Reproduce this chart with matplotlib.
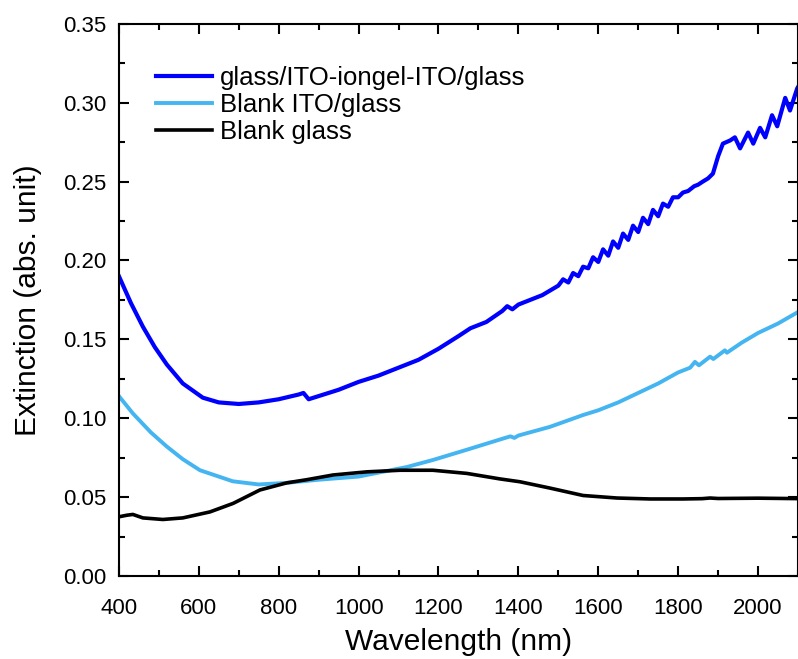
import matplotlib
matplotlib.use("Agg")
import matplotlib.pyplot as plt
from matplotlib.ticker import MultipleLocator

plt.rcParams["font.family"] = ["Liberation Sans", "DejaVu Sans"]

# glass/ITO-iongel-ITO/glass
wl_cell = [400, 430, 460, 490, 520, 560, 610, 650, 700, 750, 800, 850, 862, 875,
           900, 950, 1000, 1050, 1100, 1150, 1200, 1250, 1280, 1320, 1360, 1372,
           1385, 1400, 1430, 1460, 1480, 1500,
           1512, 1525, 1537, 1550, 1562, 1575, 1587, 1600, 1612, 1625, 1637, 1650,
           1662, 1675, 1687, 1700, 1712, 1725, 1737, 1750, 1762, 1775, 1787, 1800,
           1812, 1825, 1840, 1850, 1862, 1875, 1887, 1900, 1912, 1930, 1942, 1955,
           1975, 1988, 2005, 2018, 2035, 2048, 2068, 2080, 2098, 2105]
ext_cell = [0.190, 0.173, 0.158, 0.145, 0.134, 0.122, 0.113, 0.110, 0.109, 0.110,
            0.112, 0.115, 0.116, 0.112, 0.114, 0.118, 0.123, 0.127, 0.132, 0.137,
            0.144, 0.152, 0.157, 0.161, 0.168, 0.171, 0.169, 0.172, 0.175, 0.178,
            0.181, 0.184,
            0.188, 0.186, 0.192, 0.190, 0.196, 0.195, 0.202, 0.199, 0.207, 0.203,
            0.212, 0.208, 0.217, 0.213, 0.222, 0.218, 0.227, 0.223, 0.232, 0.228,
            0.236, 0.234, 0.240, 0.240, 0.243, 0.244, 0.247, 0.248, 0.250, 0.252,
            0.255, 0.266, 0.274, 0.276, 0.278, 0.271, 0.281, 0.274, 0.284, 0.278,
            0.292, 0.285, 0.303, 0.295, 0.309, 0.312]

# Blank ITO/glass
wl_ito = [400, 435, 480, 520, 560, 603, 650, 685, 750, 820, 900, 1000, 1060, 1120,
          1186, 1271, 1354, 1380, 1390, 1400, 1479, 1562, 1600, 1650, 1700, 1750,
          1800, 1830, 1842, 1852, 1880, 1888, 1917, 1922, 1960, 2000, 2050, 2105]
ext_ito = [0.114, 0.103, 0.091, 0.082, 0.074, 0.067, 0.063, 0.060, 0.058, 0.059,
           0.061, 0.063, 0.066, 0.069, 0.0735, 0.080, 0.0865, 0.0885, 0.0875, 0.089,
           0.0945, 0.102, 0.105, 0.110, 0.116, 0.122, 0.129, 0.132, 0.1357, 0.1335,
           0.139, 0.1375, 0.143, 0.1415, 0.148, 0.154, 0.160, 0.168]

# Blank glass
wl_glass = [400, 420, 435, 460, 510, 560, 628, 686, 753, 820, 870, 936, 1021, 1104,
            1186, 1271, 1354, 1404, 1479, 1562, 1647, 1730, 1812, 1860, 1880, 1900,
            2000, 2105]
ext_glass = [0.0375, 0.0385, 0.0390, 0.0368, 0.0358, 0.0368, 0.0406, 0.046, 0.0545,
             0.059, 0.061, 0.064, 0.066, 0.067, 0.067, 0.065, 0.0615, 0.0597, 0.0557,
             0.051, 0.0494, 0.0488, 0.0488, 0.0490, 0.0494, 0.0491, 0.0493, 0.0490]

fig = plt.figure(figsize=(7.98, 6.59), dpi=100)
ax = fig.add_axes([0.149, 0.126, 0.851, 0.838])

ax.plot(wl_cell, ext_cell, color="#0000FF", lw=3.0, label="glass/ITO-iongel-ITO/glass")
ax.plot(wl_ito, ext_ito, color="#45B5F2", lw=2.8, label="Blank ITO/glass")
ax.plot(wl_glass, ext_glass, color="black", lw=2.6, label="Blank glass")

ax.set_xlim(400, 2100)
ax.set_ylim(0, 0.35)
ax.xaxis.set_major_locator(MultipleLocator(200))
ax.xaxis.set_minor_locator(MultipleLocator(100))
ax.yaxis.set_major_locator(MultipleLocator(0.05))
ax.yaxis.set_minor_locator(MultipleLocator(0.025))
ax.yaxis.set_major_formatter(plt.FuncFormatter(lambda v, p: f"{v:.2f}"))

ax.tick_params(which="both", direction="in", top=True, right=True, width=1.5,
               labelsize=16, colors="black", pad=9)
ax.tick_params(axis="x", which="major", pad=16)
ax.tick_params(which="major", length=7)
ax.tick_params(which="minor", length=4)
for s in ax.spines.values():
    s.set_linewidth(1.5)

ax.set_xlabel("Wavelength (nm)", fontsize=21.5, labelpad=6)
ax.set_ylabel("Extinction (abs. unit)", fontsize=21.5, labelpad=15)

ax.legend(loc="upper left", bbox_to_anchor=(0.02, 0.966), frameon=False,
          fontsize=18.5, handlelength=2.2, handletextpad=0.3, labelspacing=0.13)

fig.savefig("out.png", dpi=100)
